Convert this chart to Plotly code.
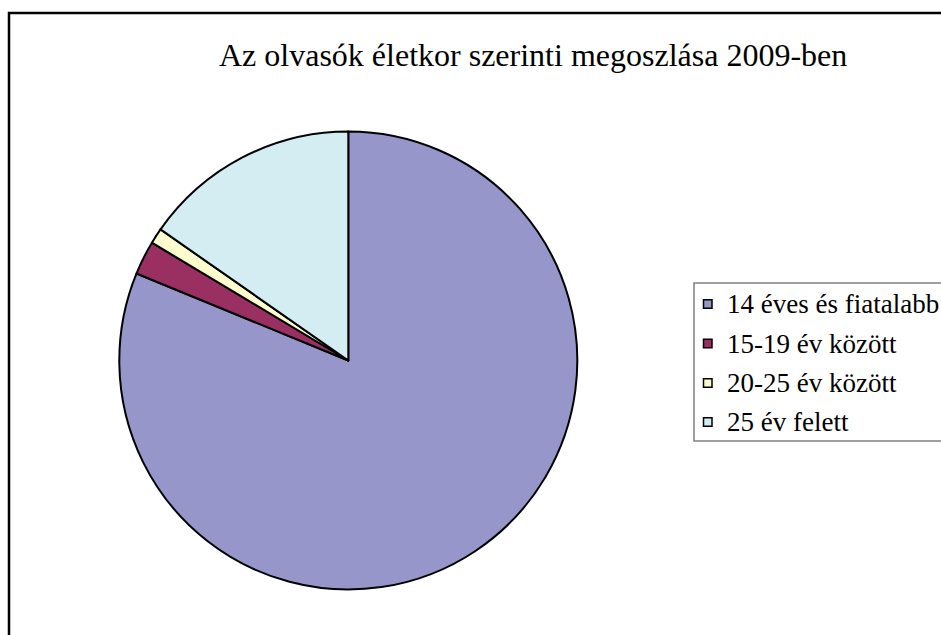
import plotly.graph_objects as go

labels = ["14 éves és fiatalabb", "15-19 év között", "20-25 év között", "25 év felett"]
values = [81.2, 2.4, 1.1, 15.3]
colors = ["#9696CA", "#9A2F62", "#FCFCCF", "#D3EDF3"]
title = "Az olvasók életkor szerinti megoszlása 2009-ben"

W, H = 941, 635
def px(x): return x / W
def py(y): return (H - y) / H

fig = go.Figure(go.Pie(
    labels=labels, values=values, sort=False, direction="clockwise", rotation=0,
    marker=dict(colors=colors, line=dict(color="black", width=2)),
    textinfo="none", showlegend=False,
    domain=dict(x=[px(348.3 - 229), px(348.3 + 229)], y=[py(589.5), py(131.5)]),
))

shapes = [
    dict(type="rect", xref="paper", yref="paper", x0=px(9), x1=px(990), y0=py(680), y1=py(13),
         line=dict(color="black", width=2.5), fillcolor="rgba(0,0,0,0)"),
    dict(type="rect", xref="paper", yref="paper", x0=px(694), x1=px(990), y0=py(441), y1=py(283),
         line=dict(color="#808080", width=1.5), fillcolor="rgba(0,0,0,0)"),
]
annotations = [dict(text=title, x=px(533), y=py(55), xref="paper", yref="paper", showarrow=False,
                    xanchor="center", yanchor="middle",
                    font=dict(family="Liberation Serif, Times New Roman, serif", size=32, color="black"))]
row_y = [304, 343.5, 383, 422]
for lab, col, yy in zip(labels, colors, row_y):
    shapes.append(dict(type="rect", xref="paper", yref="paper", x0=px(703.5), x1=px(712),
                       y0=py(yy + 4.2), y1=py(yy - 4.2), line=dict(color="black", width=1.5),
                       fillcolor=col))
    annotations.append(dict(text=lab, x=px(725), y=py(yy), xref="paper", yref="paper",
                            showarrow=False, xanchor="left", yanchor="middle",
                            font=dict(family="Liberation Serif, Times New Roman, serif", size=27, color="black")))

fig.update_layout(width=W, height=H, margin=dict(l=0, r=0, t=0, b=0),
                  paper_bgcolor="white", plot_bgcolor="white",
                  shapes=shapes, annotations=annotations)
fig.write_html("out.html", config={"displayModeBar": False})

with open("out.html", encoding="utf-8") as f:
    html = f.read()
html = html.replace("<head>", "<head><style>html,body{margin:0;padding:0;overflow:hidden;}</style>", 1)
with open("out.html", "w", encoding="utf-8") as f:
    f.write(html)
